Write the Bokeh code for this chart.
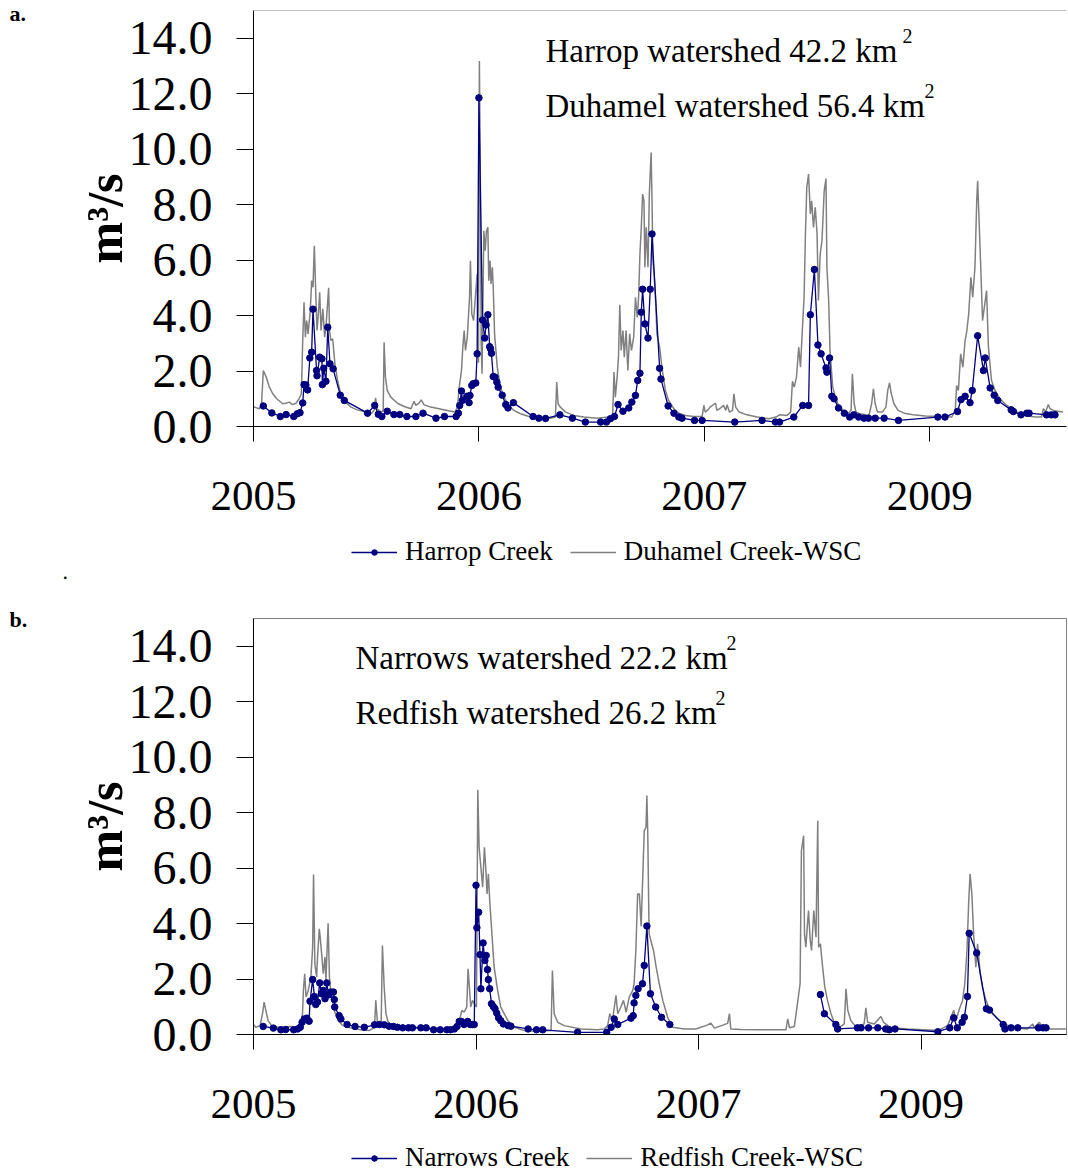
import numpy as np
import pandas as pd
from bokeh.plotting import figure
from bokeh.models import (Range1d, FixedTicker, NumeralTickFormatter, Label,
                          Legend, LegendItem, Span)
from bokeh.layouts import column, row
from bokeh.core.properties import value
from bokeh.embed import file_html
from bokeh.resources import INLINE

# ------------------------------------------------------------------ data
START = "2005-01-01"                      # day 0 of the record
tick_days = [0, 504, 1008, 1512]          # x-axis major ticks (days since START)
tick_labels = ["2005", "2006", "2007", "2009"]
y_ticks = [0, 2, 4, 6, 8, 10, 12, 14]

# panel a: Harrop Creek (measured, m3/s)
harrop_day = [22, 41, 60, 73, 90, 98, 104, 110, 113, 117, 121, 126, 130, 133, 141, 142, 148, 153,
              154, 157, 162, 166, 171, 178, 194, 203, 255, 271, 279, 287, 299, 314, 327, 343, 363,
              379, 408, 427, 453, 458, 461, 465, 467, 477, 482, 484, 488, 491, 497, 500, 504, 512,
              517, 520, 524, 528, 530, 532, 536, 540, 544, 547, 556, 564, 569, 581, 625, 638, 653,
              685, 713, 742, 776, 789, 798, 807, 815, 826, 839, 846, 854, 859, 864, 867, 870, 875,
              882, 887, 891, 908, 911, 927, 940, 951, 958, 986, 1003, 1076, 1137, 1167, 1176, 1208,
              1228, 1241, 1245, 1254, 1262, 1269, 1280, 1282, 1288, 1293, 1298, 1308, 1321, 1333,
              1342, 1353, 1365, 1375, 1390, 1410, 1442, 1530, 1546, 1574, 1582, 1591, 1602, 1607,
              1619, 1632, 1636, 1647, 1656, 1664, 1694, 1699, 1716, 1729, 1734, 1773, 1784, 1792]
harrop_q = [0.74, 0.49, 0.36, 0.43, 0.36, 0.46, 0.50, 0.85, 1.51, 1.50, 1.32, 2.47, 2.68, 4.23,
            2.02, 1.83, 2.50, 2.44, 1.51, 2.10, 1.63, 3.58, 2.26, 2.08, 1.13, 0.94, 0.48, 0.76,
            0.44, 0.36, 0.55, 0.43, 0.43, 0.36, 0.36, 0.48, 0.30, 0.36, 0.36, 0.48, 0.76, 1.28,
            0.94, 1.09, 0.86, 1.12, 1.48, 1.54, 1.57, 2.62, 11.85, 3.84, 3.19, 3.66, 4.03, 2.88,
            2.80, 2.64, 1.80, 1.78, 1.60, 1.42, 1.13, 0.79, 0.67, 0.86, 0.36, 0.30, 0.29, 0.42,
            0.30, 0.16, 0.16, 0.16, 0.28, 0.36, 0.79, 0.55, 0.67, 0.88, 1.12, 1.66, 1.92, 4.12,
            4.95, 3.70, 3.19, 4.95, 6.94, 2.10, 1.71, 0.74, 0.48, 0.34, 0.30, 0.22, 0.22, 0.16,
            0.22, 0.16, 0.16, 0.34, 0.76, 0.76, 4.03, 5.66, 2.94, 2.62, 2.11, 1.96, 2.47, 1.09,
            1.00, 0.67, 0.48, 0.34, 0.42, 0.34, 0.30, 0.30, 0.30, 0.30, 0.22, 0.34, 0.34, 0.54,
            0.97, 1.09, 0.86, 1.30, 3.27, 2.02, 2.47, 1.39, 1.13, 0.94, 0.60, 0.54, 0.42, 0.48,
            0.48, 0.42, 0.42, 0.42]

# panel a: Duhamel Creek (WSC daily, m3/s)
duhamel_day = [0, 2, 13, 18, 22, 28, 35, 43, 52, 65, 72, 80, 87, 95, 102, 107, 110, 113, 116, 119,
               122, 127, 130, 133, 136, 139, 142, 145, 148, 151, 155, 159, 162, 168, 170, 173, 177,
               182, 188, 195, 206, 218, 232, 251, 264, 270, 273, 276, 286, 290, 292, 295, 299, 307,
               322, 337, 352, 359, 363, 370, 375, 381, 396, 415, 433, 450, 456, 460, 465, 468, 471,
               474, 478, 483, 485, 488, 492, 496, 500, 503, 505, 507, 509, 511, 515, 518, 521, 524,
               526, 529, 531, 534, 536, 539, 545, 552, 560, 571, 582, 597, 616, 634, 664, 675, 678,
               681, 686, 698, 716, 739, 768, 794, 803, 806, 809, 813, 816, 819, 822, 826, 829, 833,
               837, 841, 845, 850, 854, 858, 861, 864, 867, 870, 873, 875, 878, 882, 885, 889, 891,
               893, 896, 899, 902, 908, 914, 921, 928, 940, 951, 966, 984, 1003, 1007, 1010, 1016,
               1021, 1033, 1036, 1044, 1051, 1056, 1059, 1064, 1071, 1074, 1078, 1086, 1103, 1126,
               1152, 1168, 1176, 1193, 1201, 1205, 1209, 1214, 1219, 1223, 1227, 1231, 1234, 1237,
               1241, 1245, 1248, 1252, 1256, 1260, 1263, 1267, 1271, 1276, 1280, 1282, 1286, 1289,
               1295, 1301, 1308, 1319, 1330, 1336, 1339, 1343, 1347, 1356, 1368, 1376, 1382, 1386,
               1390, 1395, 1406, 1414, 1418, 1422, 1426, 1432, 1441, 1455, 1475, 1502, 1531, 1561,
               1569, 1572, 1576, 1581, 1586, 1591, 1595, 1599, 1604, 1608, 1613, 1617, 1619, 1622,
               1626, 1630, 1636, 1639, 1643, 1650, 1658, 1669, 1680, 1695, 1710, 1725, 1747, 1762,
               1766, 1771, 1777, 1781, 1789, 1799, 1810]
duhamel_q = [0.70, 0.70, 0.64, 0.82, 2.02, 1.80, 1.44, 1.18, 1.00, 0.82, 0.84, 0.88, 0.79, 0.84,
             1.00, 1.18, 3.10, 4.48, 3.22, 3.82, 3.34, 4.18, 5.26, 5.02, 6.52, 4.90, 3.46, 4.06,
             4.84, 3.46, 4.24, 3.22, 3.58, 5.00, 3.46, 3.10, 3.16, 2.26, 1.66, 1.18, 0.88, 0.70,
             0.60, 0.52, 0.48, 0.60, 1.03, 0.64, 0.52, 0.58, 3.04, 1.78, 1.30, 1.06, 0.84, 0.72,
             0.64, 0.91, 0.76, 0.84, 0.96, 0.79, 0.70, 0.64, 0.58, 0.52, 0.70, 1.42, 2.02, 2.86,
             3.46, 2.74, 3.22, 4.66, 5.98, 4.06, 3.82, 4.66, 5.50, 2.30, 13.18, 9.50, 3.00, 1.90,
             7.06, 6.34, 7.06, 7.18, 5.26, 5.98, 5.14, 5.74, 5.02, 3.34, 2.14, 1.42, 1.06, 0.76,
             0.58, 0.46, 0.36, 0.30, 0.30, 0.34, 1.60, 0.82, 0.70, 0.52, 0.40, 0.34, 0.30, 0.34,
             0.40, 1.96, 1.06, 1.78, 2.50, 4.39, 2.74, 3.46, 2.50, 3.46, 2.02, 3.34, 2.74, 3.22,
             4.66, 3.94, 4.66, 6.22, 7.18, 8.38, 8.14, 5.74, 7.18, 5.74, 8.38, 9.88, 8.14, 5.98,
             5.38, 4.54, 3.34, 2.86, 2.02, 1.30, 0.94, 0.64, 0.48, 0.40, 0.36, 0.36, 0.76, 0.52,
             0.60, 0.70, 0.84, 0.58, 0.66, 0.76, 0.58, 0.79, 0.52, 0.58, 1.18, 0.70, 0.52, 0.42,
             0.34, 0.28, 0.34, 0.42, 0.40, 0.52, 1.63, 1.42, 1.78, 2.86, 2.14, 3.46, 4.66, 6.94,
             8.62, 9.10, 7.66, 8.14, 7.18, 7.90, 6.94, 4.54, 6.22, 6.70, 8.50, 8.94, 5.74, 4.54,
             2.74, 1.42, 1.06, 0.76, 0.58, 0.48, 0.58, 1.90, 0.82, 0.52, 0.46, 0.42, 0.40, 0.82,
             1.36, 0.82, 0.52, 0.52, 0.70, 1.30, 1.57, 1.18, 0.82, 0.58, 0.48, 0.42, 0.38, 0.36,
             0.34, 0.58, 1.48, 1.30, 2.62, 2.14, 3.10, 3.46, 4.06, 5.38, 4.66, 5.74, 8.14, 8.86,
             7.54, 5.74, 3.82, 4.54, 4.90, 2.90, 1.66, 1.30, 1.00, 0.82, 0.64, 0.48, 0.40, 0.34,
             0.34, 0.64, 0.52, 0.79, 0.64, 0.58, 0.55, 0.52]

# panel b: Narrows Creek (measured, m3/s); nan = no record
nan = float("nan")
narrows_day = [22, 45, 62, 73, 91, 100, 106, 110, 115, 121, 126, 128, 134, 138, 141, 145, 150, 154,
               158, 162, 166, 170, 175, 181, 183, 184, 194, 198, 212, 230, 251, 274, 285, 296, 307,
               317, 326, 338, 351, 360, 379, 391, 408, 423, 438, 446, 455, 461, 466, 471, 477, 485,
               491, 496, 500, 504, 506, 510, 513, 515, 520, 524, 527, 530, 532, 535, 539, 543, 547,
               551, 555, 560, 566, 577, 583, 622, 641, 655, 734, 800, 810, 817, 825, 855, 860, 862,
               866, 871, 881, 885, 891, 899, 911, 924, 943, 1100, 1284, 1293, 1319, 1323, 1368,
               1376, 1393, 1414, 1432, 1440, 1453, 1550, 1577, 1586, 1594, 1605, 1610, 1617, 1621,
               1638, 1660, 1667, 1698, 1702, 1716, 1731, 1778, 1788, 1795]
narrows_q = [0.29, 0.23, 0.17, 0.18, 0.17, 0.20, 0.26, 0.44, 0.56, 0.59, 0.48, 1.20, 1.98, 1.37,
             1.08, 1.17, 1.86, 1.47, 1.59, 1.29, 1.86, 1.43, 1.53, 1.53, 1.26, 0.99, 0.68, 0.56,
             0.36, 0.29, 0.26, 0.35, 0.36, 0.35, 0.30, 0.29, 0.26, 0.24, 0.24, 0.24, 0.24, 0.24,
             0.17, 0.17, 0.17, 0.17, 0.20, 0.29, 0.47, 0.47, 0.36, 0.47, 0.36, 0.36, 0.36, 5.38,
             3.85, 4.41, 2.88, 1.65, 3.30, 2.67, 2.85, 2.34, 1.98, 1.65, 1.11, 1.01, 0.93, 0.77,
             0.60, 0.50, 0.38, 0.32, 0.30, 0.20, 0.17, 0.17, 0.08, 0.08, 0.26, 0.56, 0.36, 0.59,
             0.68, 1.14, 1.41, 1.65, 1.83, 2.49, 3.91, 1.47, 0.99, 0.62, 0.36, nan, 1.44, 0.75,
             0.36, 0.20, 0.24, 0.24, 0.24, 0.24, 0.20, 0.17, 0.20, 0.10, 0.24, 0.60, 0.24, 0.44,
             0.62, 1.37, 3.65, 2.94, 0.93, 0.88, 0.36, 0.20, 0.24, 0.24, 0.24, 0.24, 0.24]

# panel b: Redfish Creek (WSC daily, m3/s)
redfish_day = [0, 5, 15, 21, 24, 28, 33, 41, 55, 70, 85, 100, 107, 111, 113, 116, 119, 124, 130,
               134, 136, 139, 143, 145, 149, 151, 155, 158, 162, 164, 169, 172, 175, 179, 184, 192,
               202, 221, 243, 262, 274, 277, 281, 289, 292, 296, 300, 305, 315, 334, 357, 372, 387,
               409, 432, 451, 458, 466, 472, 477, 483, 486, 489, 492, 496, 500, 505, 508, 511, 515,
               519, 523, 526, 529, 532, 535, 540, 545, 553, 560, 576, 591, 613, 643, 674, 677, 681,
               689, 704, 742, 779, 794, 802, 807, 813, 821, 825, 832, 838, 844, 851, 859, 862, 866,
               870, 874, 878, 885, 889, 891, 893, 896, 900, 906, 912, 919, 927, 938, 949, 976, 1002,
               1013, 1025, 1036, 1044, 1074, 1078, 1081, 1104, 1149, 1206, 1210, 1214, 1225, 1232,
               1238, 1241, 1246, 1248, 1251, 1257, 1261, 1264, 1269, 1274, 1278, 1280, 1284, 1289,
               1294, 1300, 1308, 1315, 1327, 1338, 1342, 1346, 1353, 1365, 1383, 1387, 1391, 1406,
               1421, 1427, 1444, 1482, 1519, 1550, 1572, 1586, 1591, 1599, 1606, 1611, 1616, 1620,
               1623, 1627, 1631, 1636, 1640, 1646, 1651, 1659, 1670, 1685, 1701, 1723, 1753, 1765,
               1768, 1780, 1787, 1806, 1840]
redfish_q = [0.36, 0.26, 0.32, 0.81, 1.17, 0.87, 0.50, 0.32, 0.26, 0.26, 0.29, 0.26, 0.38, 0.75,
             1.59, 2.19, 1.35, 1.59, 2.07, 3.15, 5.77, 2.55, 2.07, 2.79, 3.81, 3.51, 2.79, 2.19,
             2.79, 1.95, 4.01, 2.07, 1.59, 1.23, 0.81, 0.50, 0.32, 0.23, 0.17, 0.14, 0.26, 1.23,
             0.36, 0.29, 3.21, 1.71, 0.75, 0.44, 0.32, 0.26, 0.23, 0.26, 0.24, 0.20, 0.20, 0.20,
             0.26, 0.50, 0.87, 0.81, 0.99, 2.37, 1.71, 0.99, 1.23, 1.11, 0.99, 8.82, 6.75, 6.03,
             5.31, 6.75, 6.03, 5.07, 5.79, 4.83, 3.63, 2.43, 1.59, 0.99, 0.50, 0.26, 0.14, 0.12,
             0.14, 2.31, 0.75, 0.44, 0.32, 0.20, 0.17, 0.20, 0.32, 0.75, 0.50, 1.41, 0.75, 0.99,
             1.23, 0.81, 1.35, 1.59, 1.83, 3.03, 5.07, 5.07, 3.90, 7.35, 7.47, 8.62, 7.23, 3.63,
             3.39, 3.03, 2.43, 1.83, 1.23, 0.62, 0.26, 0.20, 0.20, 0.26, 0.32, 0.41, 0.23, 0.40,
             0.75, 0.20, 0.18, 0.17, 0.17, 0.56, 0.24, 0.29, 1.11, 1.83, 6.63, 7.17, 3.63, 3.15,
             4.47, 3.39, 3.03, 4.47, 3.51, 7.71, 3.15, 3.27, 2.43, 1.71, 1.23, 0.75, 0.44, 0.26,
             0.38, 1.65, 0.87, 0.50, 0.26, 0.38, 0.96, 0.44, 0.38, 0.65, 0.44, 0.24, 0.20, 0.17,
             0.14, 0.32, 0.87, 0.50, 0.93, 1.23, 1.83, 3.03, 4.83, 5.79, 5.07, 3.63, 2.43, 3.27,
             2.19, 1.71, 1.23, 0.81, 0.56, 0.38, 0.24, 0.20, 0.38, 0.24, 0.44, 0.26, 0.20, 0.20]

# ------------------------------------------------------------------ helpers
DAY_MS = 86400000.0
BASE_MS = pd.Timestamp(START).value / 1e6


def to_ms(days):
    return BASE_MS + np.asarray(days, dtype=float) * DAY_MS


NAVY = "#000080"
GREY = "#808080"
SERIF = "Liberation Serif"
SIDE_W = 70          # narrow strip on the left that carries the panel letters
MAIN_W = 1068 - SIDE_W


def draw_series(p, meas_day, meas_q, wsc_day, wsc_q):
    g = p.line(to_ms(wsc_day), wsc_q, line_color=GREY, line_width=1.5)
    bl = p.line(to_ms(meas_day), meas_q, line_color=NAVY, line_width=1.3)
    bs = p.scatter(to_ms(meas_day), meas_q, marker="circle", size=6.5, fill_color=NAVY,
                   line_color=NAVY)
    return g, bl, bs


def make_panel(height, border_top, border_bottom, frame_w, x_end_days, meas_day, meas_q,
               wsc_day, wsc_q, notes, outline):
    p = figure(width=MAIN_W, height=height, x_axis_type="datetime",
               x_range=Range1d(BASE_MS, BASE_MS + x_end_days * DAY_MS),
               y_range=Range1d(0, 15), output_backend="svg", toolbar_location=None,
               min_border_left=253 - SIDE_W, min_border_right=1068 - 253 - frame_w,
               min_border_top=border_top, min_border_bottom=border_bottom)
    p.grid.visible = False
    p.background_fill_color = "white"
    p.border_fill_color = "white"
    if outline:
        p.outline_line_color = GREY
        p.outline_line_width = 1
    else:
        p.outline_line_color = None
        p.add_layout(Span(location=15, dimension="width", line_color=GREY, line_width=1))

    draw_series(p, meas_day, meas_q, wsc_day, wsc_q)

    tick_ms = [float(v) for v in to_ms(tick_days)]
    p.xaxis.ticker = FixedTicker(ticks=tick_ms)
    p.xaxis.major_label_overrides = {t: lab for t, lab in zip(tick_ms, tick_labels)}
    p.yaxis.ticker = FixedTicker(ticks=y_ticks)
    p.yaxis.formatter = NumeralTickFormatter(format="0.0")

    for ax in (p.xaxis[0], p.yaxis[0]):
        ax.axis_line_color = "black"
        ax.axis_line_width = 1
        ax.major_tick_line_color = "black"
        ax.major_tick_in = 0
        ax.minor_tick_line_color = None
        ax.major_label_text_font = SERIF
        ax.major_label_text_color = "black"
    p.yaxis.major_tick_out = 17
    p.xaxis.major_tick_out = 15
    p.yaxis.major_label_text_font_size = "48px"
    p.xaxis.major_label_text_font_size = "43px"
    p.yaxis.major_label_standoff = 24
    p.xaxis.major_label_standoff = 40
    p.yaxis.axis_label = "m³/s"
    p.yaxis.axis_label_text_font = SERIF
    p.yaxis.axis_label_text_font_style = "bold"
    p.yaxis.axis_label_text_font_size = "50px"
    p.yaxis.axis_label_text_color = "black"
    p.yaxis.axis_label_standoff = -7

    for (tx, ty, txt, size) in notes:
        p.add_layout(Label(x=tx, y=ty, x_units="screen", y_units="screen", text=txt,
                           text_font=SERIF, text_font_size=size, text_color="black",
                           text_baseline="alphabetic", text_align="left"))
    return p


def make_legend_strip(height, x_end_days, meas_day, meas_q, meas_name, wsc_day, wsc_q,
                      wsc_name, loc):
    """Strip under a panel carrying its legend (same series, drawn outside the view)."""
    f = figure(width=MAIN_W, height=height,
               x_range=Range1d(BASE_MS, BASE_MS + x_end_days * DAY_MS),
               y_range=Range1d(-2, -1), x_axis_location=None, y_axis_location=None,
               min_border=0, toolbar_location=None, output_backend="svg")
    f.grid.visible = False
    f.outline_line_color = None
    g, bl, bs = draw_series(f, meas_day, meas_q, wsc_day, wsc_q)
    legend = Legend(items=[LegendItem(label=meas_name, renderers=[bl, bs]),
                           LegendItem(label=wsc_name, renderers=[g])],
                    location=loc, orientation="horizontal",
                    label_text_font=SERIF, label_text_font_size="27px",
                    label_text_color="black", glyph_width=46, glyph_height=14,
                    label_height=14, label_standoff=8, spacing=17, padding=0, margin=0,
                    border_line_color=None, background_fill_alpha=0)
    f.add_layout(legend)
    return f


notes_a = [(292, 376, "Harrop watershed 42.2 km", "33px"), (649, 391, "2", "20px"),
           (292, 321, "Duhamel watershed 56.4 km", "33px"), (671, 336, "2", "20px")]
notes_b = [(102, 377, "Narrows watershed 22.2 km", "33px"), (473, 392, "2", "20px"),
           (102, 322, "Redfish watershed 26.2 km", "33px"), (462, 337, "2", "20px")]

p1 = make_panel(536, 10, 110, 814, 1817.7, harrop_day, harrop_q,
                duhamel_day, duhamel_q, notes_a, False)
leg1 = make_legend_strip(45, 1817.7, harrop_day, harrop_q, "Harrop Creek",
                         duhamel_day, duhamel_q, "Duhamel Creek-WSC", (98, 14))
p2 = make_panel(558, 37, 105, 813, 1841.4, narrows_day, narrows_q,
                redfish_day, redfish_q, notes_b, True)
leg2 = make_legend_strip(35, 1841.4, narrows_day, narrows_q, "Narrows Creek",
                         redfish_day, redfish_q, "Redfish Creek-WSC", (98, 1))

# left strip with the panel letters (page pixel coordinates)
side = figure(width=SIDE_W, height=1174, x_range=Range1d(0, SIDE_W), y_range=Range1d(1174, 0),
              x_axis_location=None, y_axis_location=None, min_border=0,
              toolbar_location=None, output_backend="svg")
side.grid.visible = False
side.outline_line_color = None
side.text(x=[9, 9], y=[13, 619], text=["a.", "b."], text_font=value(SERIF),
          text_font_size="22px", text_font_style="bold", text_color="black",
          text_baseline="alphabetic")
side.text(x=[62], y=[571], text=["."], text_font=value(SERIF), text_font_size="22px",
          text_color="black", text_baseline="alphabetic")

layout = row(side, column(p1, leg1, p2, leg2, spacing=0), spacing=0)
open("out.html", "w").write(file_html(layout, INLINE))
